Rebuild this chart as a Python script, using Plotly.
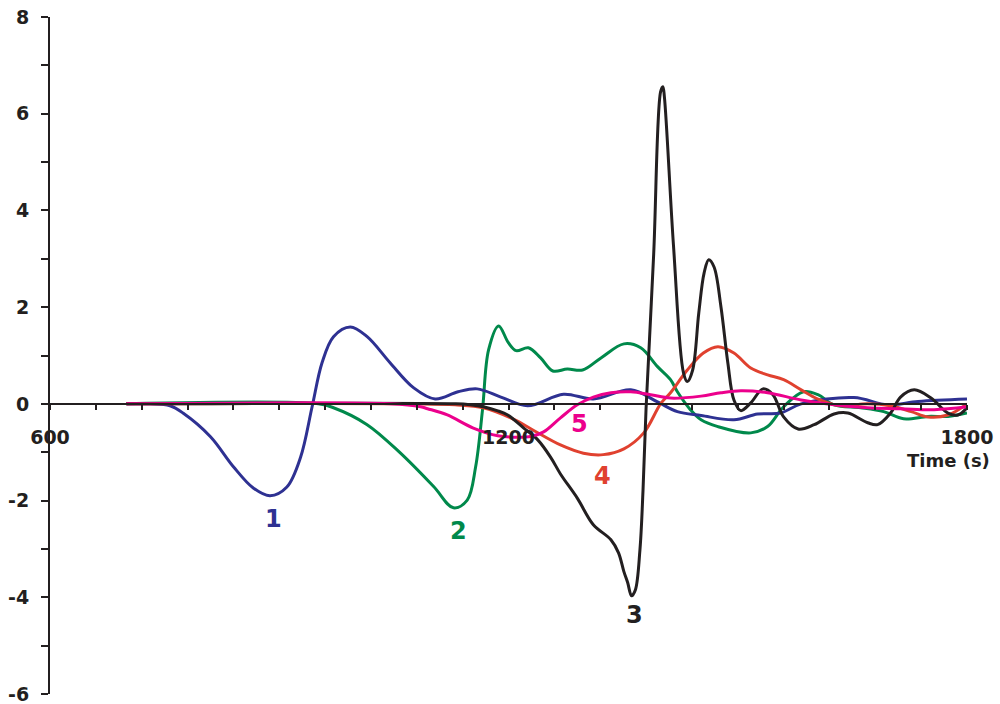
import plotly.graph_objects as go

# ---- data ----
t1 = [700, 731, 757, 774, 810, 840, 866, 888, 910, 928, 943, 956, 971, 993, 1015, 1045, 1076, 1104, 1134, 1159,
      1190, 1225, 1272, 1311, 1360, 1395, 1421, 1452, 1495, 1526, 1556, 1583, 1652, 1696, 1736, 1800]
v1 = [0, 0, -0.04, -0.19, -0.68, -1.30, -1.74, -1.90, -1.72, -1.10, -0.06, 0.85, 1.39, 1.59, 1.39, 0.85, 0.33, 0.10, 0.25, 0.31,
      0.14, -0.04, 0.20, 0.10, 0.29, 0.04, -0.16, -0.24, -0.33, -0.21, -0.19, 0.0, 0.13, -0.02, 0.05, 0.10]

t2 = [700, 951, 971, 1015, 1058, 1102, 1128, 1146, 1157, 1166, 1174, 1187, 1200, 1210, 1226, 1242, 1258, 1277, 1297, 1321,
      1351, 1373, 1395, 1412, 1421, 1438, 1452, 1474, 1517, 1539, 1560, 1586, 1605, 1626, 1661, 1691, 1717, 1749, 1775, 1800]
v2 = [0, 0, -0.08, -0.43, -1.01, -1.71, -2.15, -1.99, -1.30, -0.12, 1.12, 1.61, 1.26, 1.10, 1.16, 0.95, 0.68, 0.72, 0.70, 0.95,
      1.24, 1.16, 0.77, 0.50, 0.25, -0.12, -0.33, -0.47, -0.60, -0.47, -0.06, 0.25, 0.19, -0.02, -0.08, -0.16, -0.31, -0.26, -0.26, -0.19]

t3 = [700, 1131, 1150, 1167, 1185, 1199, 1220, 1238, 1255, 1268, 1290, 1311, 1334, 1344, 1351, 1356, 1361, 1366, 1372, 1376,
      1380, 1390, 1399, 1402, 1404, 1416, 1429, 1434, 1441, 1449, 1456, 1462, 1469, 1478, 1487, 1495, 1504, 1517, 1533, 1546,
      1560, 1579, 1600, 1626, 1644, 1670, 1683, 1700, 1713, 1731, 1753, 1775, 1788, 1800]
v3 = [0, 0, -0.02, -0.06, -0.14, -0.23, -0.50, -0.74, -1.10, -1.45, -1.95, -2.50, -2.81, -3.08, -3.47, -3.70, -3.97, -3.85, -3.02, -1.80,
      -0.10, 3.10, 6.45, 6.56, 6.35, 3.25, 0.64, 0.46, 0.70, 1.88, 2.71, 2.98, 2.83, 2.01, 0.85, 0.08, -0.14, 0.02, 0.31, 0.19,
      -0.27, -0.52, -0.43, -0.21, -0.19, -0.39, -0.43, -0.19, 0.14, 0.29, 0.12, -0.19, -0.23, -0.08]

t4 = [700, 1080, 1130, 1167, 1207, 1233, 1268, 1298, 1324, 1351, 1377, 1399, 1412, 1434, 1455, 1474, 1495, 1517, 1539, 1560,
      1583, 1605, 1635, 1670, 1700, 1727, 1749, 1775, 1800]
v4 = [0, 0, -0.02, -0.08, -0.32, -0.55, -0.85, -1.02, -1.05, -0.93, -0.60, 0.0, 0.23, 0.70, 1.05, 1.18, 1.05, 0.74, 0.60, 0.50,
      0.29, 0.10, -0.04, 0.0, -0.04, -0.16, -0.27, -0.23, 0.0]

t5 = [700, 1045, 1085, 1094, 1120, 1154, 1186, 1210, 1230, 1246, 1268, 1290, 1311, 1334, 1360, 1386, 1412, 1452, 1478, 1504,
      1539, 1583, 1626, 1670, 1713, 1757, 1800]
v5 = [0, 0, -0.06, -0.10, -0.23, -0.50, -0.66, -0.69, -0.67, -0.58, -0.29, -0.02, 0.14, 0.23, 0.25, 0.19, 0.12, 0.16, 0.23, 0.27,
      0.23, 0.08, -0.02, -0.08, -0.10, -0.12, -0.06]

series_names = ["1", "2", "3", "4", "5"]
series_colors = ["#2e3192", "#00894b", "#231f20", "#e0412f", "#ec008c"]
label_x = [892, 1134, 1365, 1323, 1293]
label_y = [-2.38, -2.63, -4.36, -1.49, -0.41]

x_tickvals = list(range(600, 1801, 60))
x_ticktext = [str(v) if v in (600, 1200, 1800) else "" for v in x_tickvals]
y_tickvals = list(range(-6, 9))
y_ticktext = [str(v) if v % 2 == 0 else "" for v in y_tickvals]

INK = "#231f20"
FONT = "DejaVu Sans"

fig = go.Figure()
data = {"1": (t1, v1), "2": (t2, v2), "3": (t3, v3), "4": (t4, v4), "5": (t5, v5)}
order = ["2", "1", "4", "3", "5"]
for name in order:
    i = series_names.index(name)
    tx, vy = data[name]
    fig.add_trace(go.Scatter(x=tx, y=vy, mode="lines", name=name,
                             line=dict(color=series_colors[i], width=3, shape="spline", smoothing=1.0),
                             showlegend=False, hoverinfo="skip", cliponaxis=False))

for i, name in enumerate(series_names):
    fig.add_annotation(x=label_x[i], y=label_y[i], xref="x", yref="y", text=name, showarrow=False,
                       font=dict(family=FONT, size=24, color=series_colors[i], weight="bold"))

fig.add_annotation(x=1.027, y=(694 - 460) / 677, xref="paper", yref="paper", text="Time (s)",
                   showarrow=False, xanchor="right", yanchor="middle",
                   font=dict(family=FONT, size=18, color=INK, weight="bold"))

fig.update_layout(
    width=1000, height=704,
    margin=dict(l=50, r=33, t=17, b=10, autoexpand=False),
    paper_bgcolor="white", plot_bgcolor="white",
    xaxis=dict(range=[600, 1800], anchor="free", position=6 / 14, automargin=False,
               showline=True, linecolor=INK, linewidth=2,
               ticks="outside", ticklen=5, tickwidth=2, tickcolor=INK,
               tickvals=x_tickvals, ticktext=x_ticktext, ticklabelstandoff=11,
               ticklabeloverflow="allow",
               tickfont=dict(family=FONT, size=19, color=INK, weight="bold"),
               showgrid=False, zeroline=False),
    yaxis=dict(range=[-6, 8], showline=True, linecolor=INK, linewidth=2, automargin=False,
               ticks="outside", ticklen=7, tickwidth=2, tickcolor=INK,
               tickvals=y_tickvals, ticktext=y_ticktext, ticklabelstandoff=8,
               ticklabeloverflow="allow",
               tickfont=dict(family=FONT, size=19, color=INK, weight="bold"),
               showgrid=False, zeroline=False),
)

# remove the page's default body margin so the 1000x704 figure fills the window exactly
fig.write_html("out.html", config={"displayModeBar": False},
               post_script="document.body.style.margin='0';document.body.style.overflow='hidden';")
